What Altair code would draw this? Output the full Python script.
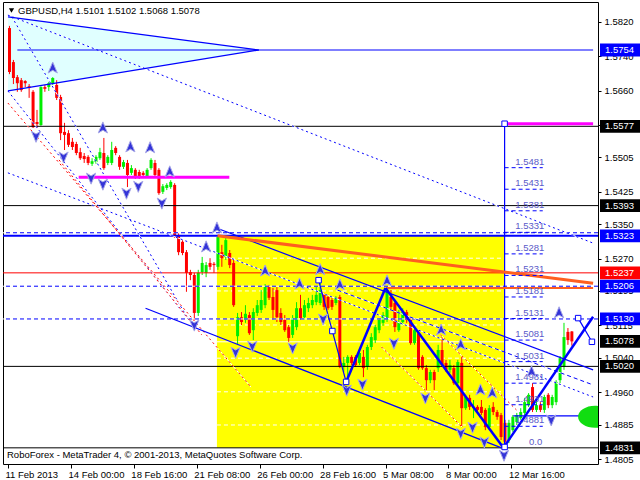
import altair as alt
import pandas as pd

# ---------------- GBPUSD H4 candles ----------------
opens = [
    1.5805, 1.5726, 1.5691, 1.5684, 1.5682, 1.5670, 1.5657, 1.5587, 1.5580, 1.5668,
    1.5668, 1.5677, 1.5673, 1.5645, 1.5564, 1.5561, 1.5541, 1.5536, 1.5517, 1.5508,
    1.5506, 1.5490, 1.5494, 1.5503, 1.5515, 1.5492, 1.5492, 1.5527, 1.5506, 1.5483,
    1.5492, 1.5469, 1.5476, 1.5471, 1.5469, 1.5459, 1.5480, 1.5492, 1.5476, 1.5425,
    1.5434, 1.5436, 1.5441, 1.5325, 1.5309, 1.5285, 1.5239, 1.5232, 1.5144, 1.5239,
    1.5237, 1.5260, 1.5258, 1.5251, 1.5285, 1.5274, 1.5283, 1.5260, 1.5090, 1.5134,
    1.5128, 1.5139, 1.5104, 1.5144, 1.5151, 1.5162, 1.5204, 1.5181, 1.5197, 1.5144,
    1.5128, 1.5111, 1.5093, 1.5111, 1.5155, 1.5134, 1.5155, 1.5162, 1.5169, 1.5167,
    1.5186, 1.5181, 1.5174, 1.5167, 1.5181, 1.5019, 1.5028, 1.5042, 1.5042, 1.5028,
    1.5042, 1.5019, 1.5065, 1.5081, 1.5104, 1.5121, 1.5128, 1.5181, 1.5167, 1.5104,
    1.5123, 1.5146, 1.5128, 1.5074, 1.5097, 1.5042, 1.5016, 1.4988, 1.5007, 1.5016,
    1.5058, 1.5028, 1.5012, 1.5016, 1.4981, 1.5028, 1.4923, 1.4947, 1.4923, 1.4926,
    1.4926, 1.4919, 1.4879, 1.4926, 1.4914, 1.4907, 1.4889, 1.4849, 1.4872, 1.4891,
    1.4900, 1.4912, 1.4930, 1.4972, 1.4919, 1.4930, 1.4919, 1.4954, 1.4930, 1.4937,
    1.4988, 1.5019, 1.5100, 1.5101,
]
highs = [
    1.5810, 1.5731, 1.5696, 1.5689, 1.5684, 1.5675, 1.5661, 1.5615, 1.5670, 1.5673,
    1.5680, 1.5691, 1.5684, 1.5650, 1.5585, 1.5568, 1.5550, 1.5541, 1.5527, 1.5515,
    1.5510, 1.5503, 1.5510, 1.5527, 1.5550, 1.5510, 1.5541, 1.5531, 1.5510, 1.5499,
    1.5499, 1.5487, 1.5480, 1.5476, 1.5473, 1.5480, 1.5503, 1.5499, 1.5480, 1.5443,
    1.5445, 1.5452, 1.5445, 1.5329, 1.5313, 1.5290, 1.5244, 1.5237, 1.5244, 1.5274,
    1.5262, 1.5271, 1.5262, 1.5325, 1.5302, 1.5318, 1.5290, 1.5267, 1.5144, 1.5146,
    1.5162, 1.5146, 1.5155, 1.5174, 1.5197, 1.5211, 1.5209, 1.5202, 1.5204, 1.5155,
    1.5139, 1.5116, 1.5139, 1.5169, 1.5186, 1.5174, 1.5179, 1.5186, 1.5204, 1.5220,
    1.5190, 1.5186, 1.5179, 1.5183, 1.5186, 1.5042, 1.5046, 1.5046, 1.5046, 1.5058,
    1.5058, 1.5070, 1.5097, 1.5116, 1.5132, 1.5146, 1.5202, 1.5197, 1.5174, 1.5151,
    1.5155, 1.5151, 1.5132, 1.5109, 1.5104, 1.5046, 1.5023, 1.5012, 1.5012, 1.5070,
    1.5088, 1.5035, 1.5035, 1.5023, 1.5035, 1.5042, 1.4954, 1.4954, 1.4942, 1.4930,
    1.4942, 1.4923, 1.4930, 1.4937, 1.4919, 1.4912, 1.4896, 1.4896, 1.4907, 1.4912,
    1.4923, 1.4947, 1.4958, 1.4981, 1.4942, 1.4937, 1.4954, 1.4958, 1.4954, 1.4988,
    1.5044, 1.5121, 1.5109, 1.5102,
]
lows = [
    1.5698, 1.5675, 1.5657, 1.5657, 1.5668, 1.5643, 1.5573, 1.5573, 1.5578, 1.5657,
    1.5659, 1.5673, 1.5638, 1.5545, 1.5522, 1.5529, 1.5522, 1.5510, 1.5499, 1.5492,
    1.5487, 1.5485, 1.5490, 1.5499, 1.5476, 1.5487, 1.5487, 1.5510, 1.5476, 1.5478,
    1.5436, 1.5464, 1.5455, 1.5455, 1.5457, 1.5457, 1.5476, 1.5459, 1.5418, 1.5420,
    1.5429, 1.5432, 1.5318, 1.5278, 1.5278, 1.5193, 1.5220, 1.5128, 1.5137, 1.5232,
    1.5227, 1.5244, 1.5237, 1.5244, 1.5251, 1.5267, 1.5248, 1.5158, 1.5070, 1.5116,
    1.5121, 1.5093, 1.5081, 1.5137, 1.5144, 1.5155, 1.5174, 1.5128, 1.5123, 1.5116,
    1.5100, 1.5077, 1.5086, 1.5104, 1.5128, 1.5128, 1.5146, 1.5155, 1.5162, 1.5162,
    1.5151, 1.5151, 1.5151, 1.5162, 1.5016, 1.5007, 1.4984, 1.5023, 1.5019, 1.5023,
    1.4995, 1.5012, 1.5058, 1.5074, 1.5097, 1.5114, 1.5123, 1.5151, 1.5100, 1.5100,
    1.5116, 1.5121, 1.5070, 1.5070, 1.5012, 1.5012, 1.4965, 1.4981, 1.4965, 1.5007,
    1.5019, 1.5007, 1.5005, 1.4977, 1.4977, 1.4879, 1.4919, 1.4919, 1.4900, 1.4912,
    1.4907, 1.4872, 1.4872, 1.4907, 1.4896, 1.4849, 1.4831, 1.4842, 1.4868, 1.4884,
    1.4896, 1.4907, 1.4926, 1.4914, 1.4914, 1.4914, 1.4912, 1.4923, 1.4923, 1.4930,
    1.4981, 1.5012, 1.5070, 1.5068,
]
closes = [
    1.5703, 1.5689, 1.5677, 1.5661, 1.5677, 1.5666, 1.5575, 1.5582, 1.5668, 1.5664,
    1.5677, 1.5689, 1.5643, 1.5561, 1.5557, 1.5534, 1.5529, 1.5515, 1.5503, 1.5501,
    1.5492, 1.5496, 1.5506, 1.5517, 1.5480, 1.5506, 1.5522, 1.5515, 1.5483, 1.5494,
    1.5464, 1.5480, 1.5459, 1.5459, 1.5464, 1.5476, 1.5499, 1.5464, 1.5422, 1.5438,
    1.5441, 1.5448, 1.5320, 1.5285, 1.5283, 1.5237, 1.5232, 1.5144, 1.5237, 1.5260,
    1.5255, 1.5251, 1.5255, 1.5320, 1.5271, 1.5313, 1.5255, 1.5162, 1.5134, 1.5123,
    1.5142, 1.5097, 1.5146, 1.5162, 1.5174, 1.5204, 1.5179, 1.5151, 1.5134, 1.5123,
    1.5104, 1.5086, 1.5132, 1.5155, 1.5132, 1.5162, 1.5167, 1.5174, 1.5186, 1.5197,
    1.5158, 1.5155, 1.5158, 1.5179, 1.5019, 1.5028, 1.5042, 1.5028, 1.5023, 1.5051,
    1.5016, 1.5065, 1.5088, 1.5111, 1.5128, 1.5139, 1.5197, 1.5158, 1.5111, 1.5123,
    1.5146, 1.5128, 1.5074, 1.5104, 1.5016, 1.5016, 1.4988, 1.5007, 1.4988, 1.5058,
    1.5023, 1.5012, 1.5023, 1.4981, 1.5030, 1.4923, 1.4949, 1.4926, 1.4926, 1.4919,
    1.4912, 1.4879, 1.4923, 1.4914, 1.4903, 1.4856, 1.4845, 1.4889, 1.4903, 1.4907,
    1.4914, 1.4937, 1.4954, 1.4919, 1.4930, 1.4919, 1.4949, 1.4930, 1.4949, 1.4984,
    1.5039, 1.5088, 1.5081, 1.5078,
]

# ---------------- axes ----------------
time_labels = ["11 Feb 2013", "14 Feb 00:00", "18 Feb 16:00", "21 Feb 08:00", "26 Feb 00:00",
               "28 Feb 16:00", "5 Mar 08:00", "8 Mar 00:00", "12 Mar 16:00"]
time_tick_bars = [-0.375, 15.625, 31.625, 47.625, 63.625, 79.625, 95.625, 111.625, 127.625]
price_ticks = [1.5820, 1.5740, 1.5660, 1.5580, 1.5505, 1.5425, 1.5350, 1.5270,
               1.5195, 1.5115, 1.5040, 1.4960, 1.4885, 1.4805]
bar_domain = [-0.375, 148.375]
price_domain = [1.47935, 1.58654]

# ---------------- chart objects ----------------
level_prices = [1.5754, 1.5577, 1.5393, 1.5323, 1.5237, 1.5206, 1.5130, 1.5078, 1.5020, 1.4831]
level_texts = ["1.5754", "1.5577", "1.5393", "1.5323", "1.5237", "1.5206", "1.5130", "1.5078", "1.5020", "1.4831"]
level_colors = ["#0000FF", "#000000", "#000000", "#0000FF", "#FF0000", "#0000FF", "#0000FF", "#000000", "#000000", "#000000"]

black_levels = [1.5577, 1.5393, 1.5020, 1.4831]
red_levels = [1.5237]
blue_dashed_levels = [1.5330, 1.5206, 1.5130]
blue_thick_levels = [1.5323]

triangle_bar = [-0.375, 63.4]
triangle_top = [1.5831, 1.5754]
triangle_bottom = [1.5659, 1.5754]

box_bars = [52.75, 125.75]
box_prices = [1.4831, 1.5323]
box_dashed_prices = [1.5271, 1.5195, 1.5116, 1.5039, 1.4961, 1.4884]
box_solid_prices = [1.5077]

fib_bar = 125.9
fib_end_bar = 135.6
fib_label_bar = 128.6
fib_values = [1.5481, 1.5431, 1.5381, 1.5331, 1.5281, 1.5231, 1.5181, 1.5131,
              1.5081, 1.5031, 1.4981, 1.4931, 1.4881]
fib_zero_bar = 132.1

# segments as (bar1, price1, bar2, price2)
blue_thin = [
    (-0.375, 1.5831, 63.4, 1.5754), (-0.375, 1.5659, 63.4, 1.5754),
    (2.0, 1.5754, 148.4, 1.5754),
    (34.6, 1.5155, 125.1, 1.4831), (52.6, 1.5341, 148.4, 1.5012),
    (128.1, 1.4905, 148.4, 1.4905), (144.6, 1.5132, 148.1, 1.5077),
    (78.6, 1.5220, 82.1, 1.5102), (82.1, 1.5102, 85.6, 1.4984),
    (fib_bar, 1.5583, fib_bar, 1.4831),
]
blue_thick = [
    (85.6, 1.4984, 95.6, 1.5202), (95.6, 1.5202, 125.6, 1.4831), (125.6, 1.4831, 148.4, 1.5135),
]
blue_dotted = [
    (-0.4, 1.5835, 148.4, 1.5306), (-0.4, 1.5469, 148.4, 1.4949),
    (0.6, 1.5831, 45.1, 1.5135), (-0.4, 1.5659, 45.6, 1.5128),
]
blue_dashed = [(83.4, 1.5197, 148.4, 1.4977)]
red_dotted = [
    (-0.4, 1.5631, 61.4, 1.4972), (12.6, 1.5499, 48.9, 1.5093),
    (94.6, 1.5065, 115.1, 1.4879), (109.6, 1.5093, 128.9, 1.4919),
]
magenta = [(17.6, 1.5459, 55.9, 1.5459), (125.9, 1.5583, 148.4, 1.5583)]
orange_thick = [(52.9, 1.5323, 148.4, 1.5213)]
orange_flat = [(95.9, 1.5202, 148.4, 1.5202)]

square_bars = [125.9, 125.9, 78.6, 82.1, 85.6, 144.6, 148.1]
square_prices = [1.5583, 1.4833, 1.5220, 1.5102, 1.4984, 1.5132, 1.5077]

up_arrow_bars = [11.0, 23.75, 30.75, 35.75, 40.75, 50.0, 52.75, 65.0, 73.75, 79.0,
                 84.0, 96.0, 109.75, 114.75, 119.75, 122.75, 132.75, 139.75]
up_arrow_prices = [1.5712, 1.5573, 1.5529, 1.5527, 1.5471, 1.5297, 1.5341, 1.5241, 1.5211, 1.5244,
                   1.5209, 1.5218, 1.5104, 1.5070, 1.4965, 1.4958, 1.5007, 1.5144]
down_arrow_bars = [6.75, 13.75, 20.75, 23.75, 29.75, 32.75, 38.75, 47.0, 57.5, 61.75,
                   72.0, 79.75, 85.75, 89.75, 97.75, 105.75, 114.75, 117.75, 120.75, 125.75, 137.75]
down_arrow_prices = [1.5554, 1.5506, 1.5457, 1.5443, 1.5422, 1.5438, 1.5399, 1.5116, 1.5053, 1.5067,
                     1.5063, 1.5130, 1.4965, 1.4979, 1.5074, 1.4947, 1.4865, 1.4879, 1.4845, 1.4814, 1.4896]

ellipse_bar = [148.9]
ellipse_price = [1.4903]

header = "GBPUSD,H4  1.5101 1.5102 1.5068 1.5078"
footer = "RoboForex - MetaTrader 4, \u00a9 2001-2013, MetaQuotes Software Corp."

# ---------------- styling ----------------
FONT = "Liberation Sans, Arial"
FS = 9.5
GREEN = "#00EE00"
RED = "#FF0000"
BLUE = "#0000FF"

xs = alt.Scale(domain=bar_domain, nice=False, zero=False)
ys = alt.Scale(domain=price_domain, nice=False, zero=False)

label_expr = "[" + ",".join("'%s'" % t for t in time_labels) + "][round((datum.value + 0.375) / 16)]"

X_AXIS = alt.Axis(values=time_tick_bars, labelExpr=label_expr, title=None, grid=False, domain=False,
                  tickSize=4, tickColor="black", labelAlign="left", labelPadding=1, labelOffset=-3,
                  labelFont=FONT, labelFontSize=FS, labelColor="black", labelOverlap=False,
                  labelFlush=False)
Y_AXIS = alt.Axis(orient="right", values=price_ticks, format=".4f", title=None, grid=False, domain=False,
                  tickSize=3, tickColor="black", labelPadding=3, labelFont=FONT, labelFontSize=FS,
                  labelColor="black", labelOverlap=False, labelFlush=False)


def bx(field):
    return alt.X(field, type="quantitative", scale=xs, axis=X_AXIS)


def py(field):
    return alt.Y(field, type="quantitative", scale=ys, axis=Y_AXIS)


def segments(rows, color, width=1.0, dash=None, underlay=False):
    df = pd.DataFrame(rows, columns=["b1", "p1", "b2", "p2"])
    enc = dict(x=bx("b1"), y=py("p1"), x2="b2:Q", y2="p2:Q")
    out = []
    if underlay:
        out.append(alt.Chart(df).mark_rule(color="white", strokeWidth=width, clip=True).encode(**enc))
    kw = dict(color=color, strokeWidth=width, clip=True)
    if dash:
        kw["strokeDash"] = dash
    out.append(alt.Chart(df).mark_rule(**kw).encode(**enc))
    return out


def hlines(prices, color, width=1.0, dash=None, underlay=False):
    df = pd.DataFrame({"p": prices})
    out = []
    if underlay:
        out.append(alt.Chart(df).mark_rule(color="white", strokeWidth=width).encode(y=py("p")))
    kw = dict(color=color, strokeWidth=width)
    if dash:
        kw["strokeDash"] = dash
    out.append(alt.Chart(df).mark_rule(**kw).encode(y=py("p")))
    return out


candles = pd.DataFrame({"bar": list(range(len(opens))), "open": opens, "high": highs,
                        "low": lows, "close": closes})
candles["dir"] = ["up" if c >= o else "down" for o, c in zip(opens, closes)]
candle_color = alt.Color("dir:N", scale=alt.Scale(domain=["up", "down"], range=[GREEN, RED]), legend=None)

layers = []

# cyan triangle
tri = pd.DataFrame({"b": triangle_bar, "top": triangle_top, "bot": triangle_bottom})
layers.append(alt.Chart(tri).mark_area(color="#E0FFFF", opacity=1).encode(
    x=bx("b"), y=py("top"), y2="bot:Q"))

# yellow rectangle and its inner levels
box = pd.DataFrame({"b1": [box_bars[0]], "b2": [box_bars[1]], "p1": [box_prices[0]], "p2": [box_prices[1]]})
layers.append(alt.Chart(box).mark_rect(color="#FFFF00").encode(x=bx("b1"), x2="b2:Q", y=py("p1"), y2="p2:Q"))
layers += segments([(box_bars[0], p, box_bars[1], p) for p in box_dashed_prices], "white", 1, [4, 3])
layers += segments([(box_bars[0], p, box_bars[1], p) for p in box_solid_prices], "white", 1)

# candles
layers.append(alt.Chart(candles).mark_rule(strokeWidth=1).encode(
    x=bx("bar"), y=py("low"), y2="high:Q", color=candle_color))
layers.append(alt.Chart(candles).mark_bar(width=3).encode(
    x=bx("bar"), y=py("open"), y2="close:Q", color=candle_color))

# horizontal levels
layers += hlines(black_levels, "black", 1)
layers += hlines(red_levels, RED, 1)
layers += hlines(blue_dashed_levels, BLUE, 1, [4, 3], underlay=True)
layers += hlines(blue_thick_levels, BLUE, 2)

# trend lines and channels
layers += segments(blue_dotted, BLUE, 1, [2, 3], underlay=True)
layers += segments(blue_dashed, BLUE, 1, [4, 3], underlay=True)
layers += segments(red_dotted, RED, 1, [2, 3], underlay=True)
layers += segments(blue_thin, BLUE, 1.2)
layers += segments(orange_thick, "#FF5F1F", 3)
layers += segments(orange_flat, "#FF5F1F", 2)
layers += segments(magenta, "#FF00FF", 3)
layers += segments(blue_thick, BLUE, 2.5)

# fibonacci levels
fib_rows = [(fib_bar, v, fib_end_bar, v) for v in fib_values]
layers += segments(fib_rows, BLUE, 1, [4, 3])
fib_df = pd.DataFrame({"b": [fib_label_bar] * len(fib_values) + [fib_zero_bar],
                       "p": fib_values + [1.4831],
                       "t": ["%.4f" % v for v in fib_values] + ["0.0"]})
layers.append(alt.Chart(fib_df).mark_text(align="left", baseline="bottom", dy=-1, font=FONT,
                                          fontSize=FS, color="#5A5AC8").encode(
    x=bx("b"), y=py("p"), text="t:N"))

# green ellipse at the right edge
ell = pd.DataFrame({"b": ellipse_bar, "p": ellipse_price})
ellipse_path = ("M-1,0 C-1,-0.36 -0.55,-0.65 0,-0.65 C0.55,-0.65 1,-0.36 1,0 "
                "C1,0.36 0.55,0.65 0,0.65 C-0.55,0.65 -1,0.36 -1,0 Z")
layers.append(alt.Chart(ell).mark_point(shape=ellipse_path, size=1156, filled=True, color="#11DD11",
                                        opacity=1, clip=True).encode(x=bx("b"), y=py("p")))

# anchor squares
sq = pd.DataFrame({"b": square_bars, "p": square_prices})
layers.append(alt.Chart(sq).mark_point(shape="square", size=30, filled=True, fill="white", stroke=BLUE,
                                       strokeWidth=1, opacity=1).encode(x=bx("b"), y=py("p")))

# fractal arrows
up_path = "M0,-1 L0.75,0.8 L0,0.35 L-0.75,0.8 Z"
down_path = "M0,1 L0.75,-0.8 L0,-0.35 L-0.75,-0.8 Z"
ua = pd.DataFrame({"b": up_arrow_bars, "p": up_arrow_prices})
da = pd.DataFrame({"b": down_arrow_bars, "p": down_arrow_prices})
for df, path in ((ua, up_path), (da, down_path)):
    layers.append(alt.Chart(df).mark_point(shape=path, size=150, filled=True, fill="#3434D8",
                                           stroke="#A8A8E8", strokeWidth=1, opacity=1).encode(
        x=bx("b"), y=py("p")))

# price tags on the right scale
tags = pd.DataFrame({"p": level_prices, "t": level_texts, "c": level_colors})
tag_path = "M-1,-0.32 L1,-0.32 L1,0.32 L-1,0.32 Z"
layers.append(alt.Chart(tags).mark_point(shape=tag_path, size=1600, filled=True, opacity=1).encode(
    x=alt.value(617), y=py("p"), fill=alt.Color("c:N", scale=None)))
layers.append(alt.Chart(tags).mark_text(align="left", baseline="middle", font=FONT, fontSize=FS,
                                        color="white").encode(x=alt.value(602), y=py("p"), text="t:N"))

# header and footer text
layers.append(alt.Chart(pd.DataFrame({"t": [header]})).mark_text(
    align="left", baseline="middle", font=FONT, fontSize=FS, color="black").encode(
    x=alt.value(15), y=alt.value(9), text="t:N"))
layers.append(alt.Chart(pd.DataFrame({"t": ["x"]})).mark_point(
    shape="triangle-down", size=28, filled=True, color="black", opacity=1).encode(
    x=alt.value(8.5), y=alt.value(8.5)))
layers.append(alt.Chart(pd.DataFrame({"t": [footer]})).mark_text(
    align="left", baseline="middle", font=FONT, fontSize=FS, color="black").encode(
    x=alt.value(4), y=alt.value(453), text="t:N"))

chart = alt.layer(*layers).properties(
    width=595, height=462,
    autosize=alt.AutoSizeParams(type="none"),
    padding={"left": 3, "top": 2, "right": 42, "bottom": 16},
    background="white",
).configure_view(stroke="black", strokeWidth=1)

chart.save("out.html", embed_options={"renderer": "svg", "actions": False})
